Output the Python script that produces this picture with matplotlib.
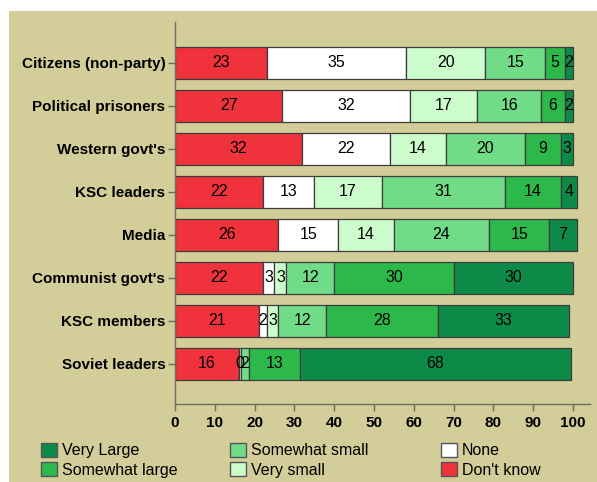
import matplotlib
matplotlib.use("Agg")
import matplotlib.pyplot as plt
from matplotlib.patches import Rectangle, Patch

plt.rcParams['font.family'] = ['Liberation Sans', 'DejaVu Sans']

# groups, top to bottom
groups = ["Citizens (non-party)", "Political prisoners", "Western govt's", "KSC leaders",
          "Media", "Communist govt's", "KSC members", "Soviet leaders"]

# segments, left to right
dont_know = [23, 27, 32, 22, 26, 22, 21, 16]
none = [35, 32, 22, 13, 15, 3, 2, 0]
very_small = [20, 17, 14, 17, 14, 3, 3, 0.5]
somewhat_small = [15, 16, 20, 31, 24, 12, 12, 2]
somewhat_large = [5, 6, 9, 14, 15, 30, 28, 13]
very_large = [2, 2, 3, 4, 7, 30, 33, 68]

series = [
    ("Don't know", dont_know, "#f0323c"),
    ("None", none, "#ffffff"),
    ("Very small", very_small, "#ccfccc"),
    ("Somewhat small", somewhat_small, "#70dc88"),
    ("Somewhat large", somewhat_large, "#2db84c"),
    ("Very Large", very_large, "#0e8a48"),
]

bg = "#d3cd99"
edge = "#3c3c3c"

fig = plt.figure(figsize=(5.97, 4.82), dpi=100)
fig.patches.append(Rectangle((9 / 597, 0), 1, 1 - 11 / 482, transform=fig.transFigure,
                             facecolor=bg, edgecolor="none", zorder=-1))
ax = fig.add_axes([175 / 597, 1 - 404 / 482, (590 - 175) / 597, (404 - 22) / 482])
ax.set_facecolor(bg)

ypos = list(range(len(groups)))
left = [0] * len(groups)
for name, vals, col in series:
    ax.barh(ypos, vals, left=left, height=0.76, color=col, edgecolor=edge, linewidth=0.9)
    for i, v in enumerate(vals):
        if v > 0:
            ax.text(left[i] + v / 2, ypos[i], f"{v:.0f}", ha="center", va="center",
                    fontsize=11.5, color="black")
    left = [l + v for l, v in zip(left, vals)]

ax.set_ylim(7.93, -0.95)
ax.set_xlim(0, 104.3)
ax.set_yticks(ypos)
ax.set_yticklabels(groups, fontsize=11, fontweight="bold")
ax.set_xticks(range(0, 101, 10))
ax.tick_params(axis="x", labelsize=11, length=5, color="#6e6e5e", width=1)
ax.tick_params(axis="y", length=5, color="#6e6e5e", width=1, pad=2)
for lab in ax.get_xticklabels():
    lab.set_fontweight("bold")
for s in ["top", "right"]:
    ax.spines[s].set_visible(False)
for s in ["left", "bottom"]:
    ax.spines[s].set_color("#6e6e5e")
    ax.spines[s].set_linewidth(1)

# legend: three columns of two entries each
colors = {n: c for n, _, c in series}
legend_cols = [(["Very Large", "Somewhat large"], 41),
               (["Somewhat small", "Very small"], 230),
               (["None", "Don't know"], 441)]
for names, xpix in legend_cols:
    handles = [Patch(facecolor=colors[n], edgecolor="#555555", label=n) for n in names]
    fig.legend(handles=handles, loc="upper left", bbox_to_anchor=(xpix / 597, 1 - 443 / 482),
               frameon=False, prop={"size": 11.5}, handlelength=1.0, handleheight=0.95,
               handletextpad=0.3, labelspacing=0.25, borderpad=0, borderaxespad=0)

fig.savefig("out.png", dpi=100, facecolor="white")
